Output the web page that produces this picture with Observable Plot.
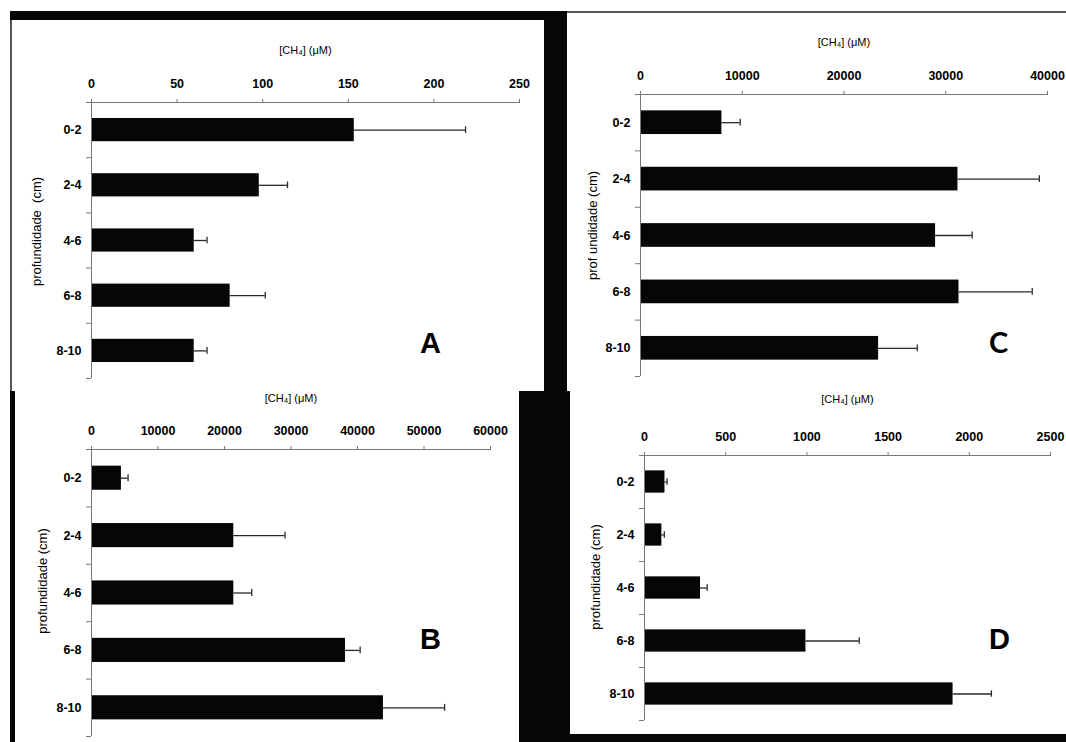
<!DOCTYPE html>
<html>
<head>
<meta charset="utf-8">
<script src="https://cdn.jsdelivr.net/npm/d3@7"></script>
<script src="https://cdn.jsdelivr.net/npm/@observablehq/plot@0.6"></script>
<style>
  html, body { margin: 0; padding: 0; background: #fff; overflow: hidden; }
  #page { position: relative; width: 1066px; height: 742px; overflow: hidden; background: #fff; }
  .blk { position: absolute; background: #070605; z-index: 5; }
  .gry { position: absolute; background: #555; z-index: 5; }
  .panel { position: absolute; z-index: 1; }
  .panel svg { overflow: visible; }
</style>
</head>
<body>
<div id="page"></div>
<script>
// ---- data ----
const depths = ["0-2", "2-4", "4-6", "6-8", "8-10"];

const valuesA = [153.5, 98, 60, 81, 60];
const errorsA = [65, 16.5, 7.5, 20.5, 7.5];
const ticksA = [0, 50, 100, 150, 200, 250];

const valuesB = [4500, 21400, 21400, 38200, 43900];
const errorsB = [1000, 7700, 2700, 2200, 9200];
const ticksB = [0, 10000, 20000, 30000, 40000, 50000, 60000];

const valuesC = [8000, 31200, 29000, 31300, 23400];
const errorsC = [1800, 8000, 3600, 7200, 3800];
const ticksC = [0, 10000, 20000, 30000, 40000];

const valuesD = [126, 107, 345, 994, 1900];
const errorsD = [13, 15, 41, 328, 236];
const ticksD = [0, 500, 1000, 1500, 2000, 2500];

const xTitle = "[CH\u2084] (\u03bcM)";
const ylabelA = "profundidade  (cm)";
const ylabelB = "profundidade (cm)";
const ylabelC = "prof undidade (cm)";
const ylabelD = "profundidade (cm)";

// ---- layout (page frame) ----
const page = document.getElementById("page");
function box(cls, l, t, w, h) {
  const d = document.createElement("div");
  d.className = cls;
  Object.assign(d.style, {left: l + "px", top: t + "px", width: w + "px", height: h + "px"});
  page.appendChild(d);
}
box("blk", 10, 11, 557, 9);
box("gry", 10, 20, 2, 371);
box("blk", 544, 20, 23, 371);
box("gry", 567, 11, 499, 2);
box("blk", 10, 391, 5, 351);
box("blk", 519, 391, 51, 351);
box("blk", 570, 734, 496, 8);

const panels = [
  {letter: "A", values: valuesA, errors: errorsA, ticks: ticksA, ylabel: ylabelA,
   left: 12, top: 20, width: 532, height: 371, mL: 79, mR: 25, mT: 82, mB: 13,
   titleDy: -52, ylDx: -55, ylDy: -9, letterDx: 339, letterDy: 241, letterFont: "Liberation Sans"},
  {letter: "C", values: valuesC, errors: errorsC, ticks: ticksC, ylabel: ylabelC,
   left: 567, top: 13, width: 499, height: 378, mL: 73, mR: 19, mT: 81, mB: 15,
   titleDy: -52, ylDx: -48, ylDy: -10, letterDx: 358, letterDy: 249, letterFont: "Lato"},
  {letter: "B", values: valuesB, errors: errorsB, ticks: ticksB, ylabel: ylabelB,
   left: 15, top: 391, width: 504, height: 351, mL: 76, mR: 29, mT: 58, mB: 6,
   titleDy: -51, ylDx: -49, ylDy: -12, letterDx: 339, letterDy: 190, letterFont: "Liberation Sans"},
  {letter: "D", values: valuesD, errors: errorsD, ticks: ticksD, ylabel: ylabelD,
   left: 570, top: 391, width: 496, height: 343, mL: 74, mR: 16, mT: 64, mB: 14,
   titleDy: -56, ylDx: -49, ylDy: -11, letterDx: 355, letterDy: 184, letterFont: "Liberation Sans"}
];

const pad = 0.29;   // band inset (fraction of band)
const cap = 0.06;   // half cap length (fraction of band)

for (const p of panels) {
  const rows = depths.map((d, i) => ({depth: d, i, value: p.values[i], err: p.errors[i]}));
  const xmax = p.ticks[p.ticks.length - 1];
  const chart = Plot.plot({
    width: p.width,
    height: p.height,
    marginLeft: p.mL, marginRight: p.mR, marginTop: p.mT, marginBottom: p.mB,
    x: {domain: [0, xmax], label: null},
    y: {domain: [0, depths.length], reverse: true, label: null},
    style: {fontFamily: "'Liberation Sans', Arial, sans-serif", fontSize: "12.5px", background: "transparent", color: "#000"},
    marks: [
      Plot.rect(rows, {x1: 0, x2: "value", y1: d => d.i + pad, y2: d => d.i + 1 - pad, fill: "#080604"}),
      Plot.ruleY(rows, {y: d => d.i + 0.5, x1: "value", x2: d => d.value + d.err, stroke: "#2a2a2a", strokeWidth: 1.3}),
      Plot.ruleX(rows, {x: d => d.value + d.err, y1: d => d.i + 0.5 - cap, y2: d => d.i + 0.5 + cap, stroke: "#2a2a2a", strokeWidth: 1.3}),
      Plot.ruleY([0], {stroke: "#777", strokeWidth: 1}),
      Plot.ruleX([0], {stroke: "#777", strokeWidth: 1}),
      Plot.axisX({anchor: "top", ticks: p.ticks, tickSize: 4, tickPadding: 11, tickFormat: d => String(d),
                  label: null, stroke: "#777", fill: "#000", fontWeight: "bold"}),
      Plot.axisY({ticks: d3.range(depths.length + 1), tickSize: 5, tickFormat: () => "", label: null, stroke: "#777"}),
      Plot.text(rows, {x: 0, y: d => d.i + 0.5, text: "depth", textAnchor: "end", dx: -10,
                       fontWeight: "bold", fontSize: 12.5, fill: "#000"}),
      Plot.text([xTitle], {frameAnchor: "top", dy: p.titleDy, lineAnchor: "middle", fontSize: 11, fill: "#000"}),
      Plot.text([p.ylabel], {frameAnchor: "left", rotate: -90, dx: p.ylDx, dy: p.ylDy, textAnchor: "middle",
                             lineAnchor: "middle", fontSize: 13, fill: "#000"}),
      Plot.text([p.letter], {frameAnchor: "top-left", dx: p.letterDx, dy: p.letterDy, textAnchor: "middle",
                             lineAnchor: "middle", fontSize: 29, fontWeight: "bold", fontFamily: p.letterFont, fill: "#000"})
    ]
  });
  const wrap = document.createElement("div");
  wrap.className = "panel";
  Object.assign(wrap.style, {left: p.left + "px", top: p.top + "px", width: p.width + "px", height: p.height + "px"});
  wrap.appendChild(chart);
  page.appendChild(wrap);
}
</script>
</body>
</html>
